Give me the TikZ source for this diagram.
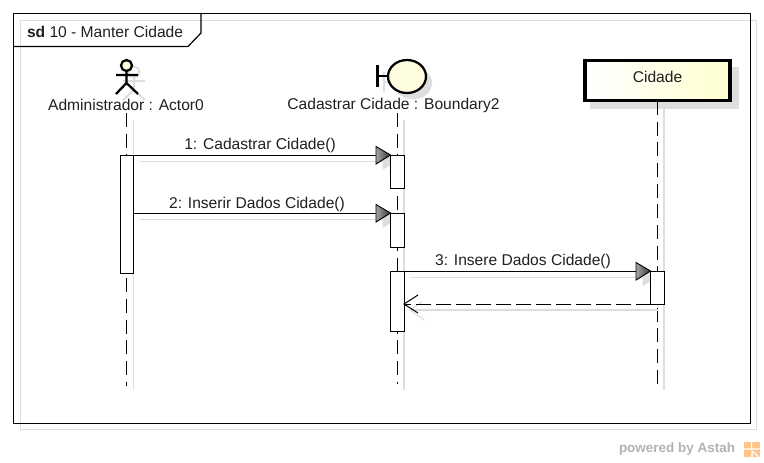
\documentclass[tikz,border=0pt]{standalone}
\usepackage{fontspec}
\setmainfont{Liberation Sans}
\usetikzlibrary{calc,arrows.meta}
\definecolor{shadowgray}{HTML}{DEDEDE}
\definecolor{paleyellow}{HTML}{FFFFD0}
\definecolor{headyellow}{HTML}{FFFDE0}
\newcommand{\pxl}[1]{#1*0.75pt}
\tikzset{
  x=0.75pt,y=-0.75pt,
  every node/.style={inner sep=0pt,outer sep=0pt},
  txt/.style={font=\fontsize{11.7pt}{14pt}\selectfont,text=black!88},
  shadowline/.style={draw=shadowgray,line width=0.9pt},
  shadowfill/.style={fill=shadowgray,draw=none},
  lifeline/.style={draw=black,line width=0.75pt,dash pattern=on 10.5pt off 5pt},
  actbox/.style={draw=black,fill=white,line width=0.75pt,rectangle,minimum width=\pxl{13.5}},
  msg/.style={draw=black,line width=0.75pt},
  ret/.style={draw=black,line width=0.75pt,dash pattern=on 11pt off 4pt},
  tri/.style={draw=black,line width=0.7pt,left color=black!35,right color=black!80},
  stick/.style={draw=black,line width=1.7pt},
}
\begin{document}
\begin{tikzpicture}
\useasboundingbox (0,0) rectangle (764,462);
% frame shadow
\draw[shadowline] (20.5,20.5) rectangle (756.5,429.5);
% frame
\node[draw=black,line width=0.9pt,rectangle,minimum width=\pxl{737},minimum height=\pxl{409.5}] (frame) at (382,218.5) {};
\coordinate (tabT) at (201,13.75);
\coordinate (tabM) at (201,33);
\coordinate (tabD) at (188,46.5);
\coordinate (tabL) at (13.75,46.5);
\draw[black,line width=0.9pt] (tabT) -- (tabM) -- (tabD) -- (tabL);
\node[txt,anchor=west] (title) at (27,31.5) {\textbf{sd} 10 - Manter Cidade};

% actor shadow
\draw[shadowline,line width=1.5pt] (134,72) circle (5.5);
\draw[shadowline,line width=1.5pt] (134,78) -- (134,90) (123,81) -- (145,81) (123,100) -- (134,90) -- (145,100);
% actor
\draw[stick,fill=headyellow] (126.5,65.5) circle (5.5);
\draw[stick] (126.5,71) -- (126.5,83) (116,75) -- (138,75) (116,94) -- (126.5,83) -- (138,94);
\node[txt] (alabel) at (126,105) {Administrador : Actor0};

% boundary shadow
\fill[shadowgray] (413,83) ellipse (19 and 16.5);
\draw[shadowline,line width=1.6pt] (384,72) -- (384,92) (384,82) -- (395,82);
% boundary
\draw[stick] (377.5,65) -- (377.5,87) (377.5,76) -- (388,76);
\draw[stick,fill=headyellow] (407,76.5) ellipse (19 and 16.5);
\node[txt] (blabel) at (393.5,105) {Cadastrar Cidade : Boundary2};

% class box
\fill[shadowgray] (590,67) rectangle (739,109);
\node[draw=black,line width=2.3pt,rectangle,left color=white,right color=paleyellow,
  minimum width=\pxl{145},minimum height=\pxl{40},txt,text depth=\pxl{10},text height=\pxl{13}] (cbox) at (657.5,80.5) {Cidade};

% lifeline ends
\coordinate (aend) at (126.5,386);
\coordinate (bend) at (397,384);
\coordinate (cend) at (658,384);

% lifeline shadows
\draw[shadowline] (133.5,120) -- (133.5,390);
\draw[shadowline] (404,120) -- (404,390);
\draw[shadowline] (664,108) -- (664,390);

% lifelines
\draw[lifeline] (126.5,113) -- (aend);
\draw[lifeline] (397,113) -- (bend);
\draw[lifeline] (657.5,101) -- (cend -| 657.5,0);

% activations
\node[actbox,minimum height=\pxl{118}] (a1) at (126.75,214) {};
\node[actbox,minimum height=\pxl{33}]  (b1) at (397.25,171.5) {};
\node[actbox,minimum height=\pxl{34}]  (b2) at (397.25,230) {};
\node[actbox,minimum height=\pxl{60}]  (b3) at (397.25,301) {};
\node[actbox,minimum height=\pxl{33}]  (c1) at (657.25,287.5) {};

% message anchors
\coordinate (m2s) at ($(a1.north east)+(0,58)$);

% message shadows
\draw[shadowline] ($(a1.north east)+(6,6.5)$) -- ($(b1.north west)+(-8,6.5)$);
\fill[shadowgray] ($(b1.north west)+(-8,-2)$) -- ($(b1.north west)+(6,6.5)$) -- ($(b1.north west)+(-8,15)$) -- cycle;
\draw[shadowline] ($(m2s)+(6,6.5)$) -- ($(b2.north west)+(-8,6.5)$);
\fill[shadowgray] ($(b2.north west)+(-8,-2)$) -- ($(b2.north west)+(6,6.5)$) -- ($(b2.north west)+(-8,15)$) -- cycle;
\draw[shadowline] ($(b3.north east)+(6,6.5)$) -- ($(c1.north west)+(-8,6.5)$);
\fill[shadowgray] ($(c1.north west)+(-8,-2)$) -- ($(c1.north west)+(6,6.5)$) -- ($(c1.north west)+(-8,15)$) -- cycle;
\draw[shadowline] ($(c1.south)+(0.5,6)$) -- ($(b3.east |- c1.south)+(6,6)$);
\draw[shadowline] ($(b3.east |- c1.south)+(18,-2)$) -- ($(b3.east |- c1.south)+(6,6)$) -- ($(b3.east |- c1.south)+(20,16)$);

% redraw boxes above message shadows
\node[actbox,minimum height=\pxl{33}]  at (b1.center) {};
\node[actbox,minimum height=\pxl{34}]  at (b2.center) {};
\node[actbox,minimum height=\pxl{33}]  at (c1.center) {};

% messages
\draw[msg] (a1.north east) -- (b1.north west);
\shadedraw[tri] ($(b1.north west)+(-14.5,-8.5)$) -- (b1.north west) -- ($(b1.north west)+(-14.5,9)$) -- cycle;
\node[txt] (l1) at (260,145) {1: Cadastrar Cidade()};

\draw[msg] (m2s) -- (b2.north west);
\shadedraw[tri] ($(b2.north west)+(-14.5,-8.5)$) -- (b2.north west) -- ($(b2.north west)+(-14.5,9)$) -- cycle;
\node[txt] (l2) at (257,204) {2: Inserir Dados Cidade()};

\draw[msg] (b3.north east) -- (c1.north west);
\shadedraw[tri] ($(c1.north west)+(-14.5,-8.5)$) -- (c1.north west) -- ($(c1.north west)+(-14.5,9)$) -- cycle;
\node[txt] (l3) at (523,261) {3: Insere Dados Cidade()};

\draw[ret] (c1.south west) -- (b3.east |- c1.south);
\draw[msg] ($(b3.east |- c1.south)+(14,-9)$) -- (b3.east |- c1.south) -- ($(b3.east |- c1.south)+(14,9)$);

% watermark
\node[anchor=west,font=\bfseries\fontsize{10.1pt}{12pt}\selectfont,text=black!30] (wm) at (619,449.5) {powered by Astah};
\fill[orange!45] (744,442) rectangle (759.5,457);
\draw[white,line width=0.8pt] (751.5,442) -- (751.5,449) (744,449) -- (759.5,449) (752,451) -- (759,457) (752,457) -- (752,451);
\end{tikzpicture}
\end{document}
